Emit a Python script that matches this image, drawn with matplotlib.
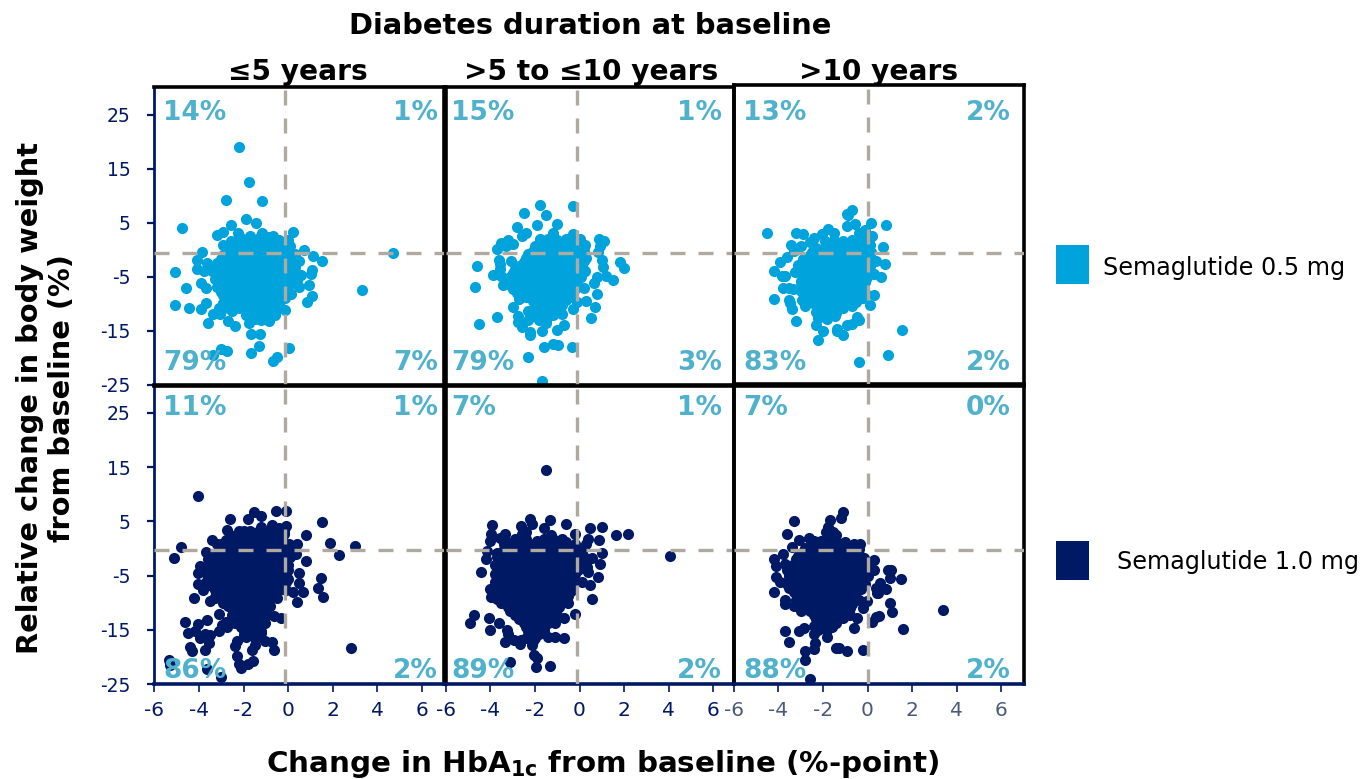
import matplotlib
matplotlib.use("Agg")
import matplotlib.pyplot as plt
from matplotlib.patches import Rectangle

plt.rcParams['font.family'] = 'DejaVu Sans'
plt.rcParams['axes.unicode_minus'] = False
plt.rcParams['mathtext.fontset'] = 'dejavusans'

W, H = 1364, 779
LIGHT = '#00A3DB'
DARK = '#001965'
TEAL = '#4FB1CB'
DASH = '#AFA9A0'

y_ticks = [25, 15, 5, -5, -15, -25]
x_ticks = [-6, -4, -2, 0, 2, 4, 6]
column_titles = ['≤5 years', '>5 to ≤10 years', '>10 years']
series_names = ['Semaglutide 0.5 mg', 'Semaglutide 1.0 mg']

pct_top = [['14%', '1%', '79%', '7%'], ['15%', '1%', '79%', '3%'], ['13%', '2%', '83%', '2%']]
pct_bot = [['11%', '1%', '86%', '2%'], ['7%', '1%', '89%', '2%'], ['7%', '0%', '88%', '2%']]

p1_edge = [(-2.18,19.1),(-1.76,12.6),(-2.78,9.35),(-1.18,9.0),(-4.77,4.0),(4.72,-0.5),(3.32,-7.4),(1.52,-2.1),(1.12,-1.2),(.72,0),(.22,3.4),(-5.07,-4.0),(-4.57,-7.1),(-5.07,-10.2),(-4.45,-10.8),(-3.89,-10.9),(-3.68,-9.9),(-3.57,-13.5),(-3.39,-11.8),(-3.05,-11.8),(-2.68,-13.2),(-2.38,-14.1),(-1.76,-13.5),(-1.67,-15.6),(-1.26,-15.6),(-1.3,-17.7),(-1.66,-19),(-3.02,-18.4),(-2.75,-18.7),(-3.38,-19.5),(-.48,-19.8),(-.66,-20.6),(.04,-18.1),(-.15,-11.2),(-.87,-13.1),(-.58,-12.1),(.84,-9.7),(1.05,-8.5),(.94,-6.4),(1.05,-3.7),(1.03,-4.5),(.51,-2.1),(.51,-6.8),(.12,-8.2),(-.15,-8.8),(-1.87,5.8),(-1.43,5),(-2.57,4.7),(-3.17,2.8),(-2.9,3.3),(-2.23,3.2),(-1.17,3.2),(-.66,2.6),(.01,1.9),(-2.57,1.6),(-2.9,1),(-3.87,-.3),(-4.07,-1.8),(-4.1,-3.6),(-3.65,-2.4),(-3.9,-6.2),(-3.7,-7.1),(-3.5,-3.4),(-3.75,-3.9),(.3,-1.8),(.6,-4.6),(.4,-5.6)]
p1_fill = [(-2.1,2.3),(-1.7,2.6),(-1.3,2.2),(-.9,2.4),(-.4,1.9),(-2.5,.6),(-2.0,.9),(-1.7,.6),(-1.3,.8),(-.9,.5),(-.5,.9),(-.1,.6),(.1,.8),(-2.9,-.9),(-2.5,-1),(-2.1,-.7),(-1.7,-1),(-1.3,-.8),(-.9,-1.1),(-.5,-.8),(-.1,-1),(.3,-.7),(-3.2,-2.4),(-2.8,-2.3),(-2.4,-2.6),(-2,-2.3),(-1.6,-2.5),(-1.2,-2.3),(-.8,-2.6),(-.4,-2.4),(0,-2.3),(-3.4,-3.9),(-3,-4),(-2.6,-3.8),(-2.2,-4.1),(-1.8,-3.9),(-1.4,-4),(-1,-3.8),(-.6,-4.1),(-.2,-3.8),(.3,-4),(-3.3,-5.4),(-2.9,-5.5),(-2.5,-5.3),(-2.1,-5.6),(-1.7,-5.4),(-1.3,-5.5),(-.9,-5.3),(-.5,-5.6),(-.1,-5.4),(-3.2,-6.9),(-2.8,-7),(-2.4,-6.8),(-2,-7.1),(-1.6,-6.9),(-1.2,-7),(-.8,-6.8),(-.4,-7.1),(0,-6.9),(-2.9,-8.4),(-2.5,-8.5),(-2.1,-8.3),(-1.7,-8.6),(-1.3,-8.4),(-.9,-8.5),(-.5,-8.3),(-2.9,-9.9),(-2.5,-10.2),(-2,-9.9),(-1.6,-10.1),(-1.2,-9.9),(-.8,-10),(-.4,-9.8),(-3.1,-10.8),(-2.5,-11.3),(-1.7,-11.4),(-1.3,-11.6),(-.9,-11.3),(-.5,-11),(-1.5,-12.8),(-1.2,-13),(-.9,-12.5)]
p1_core = [(1.5,[-2.3,-1.9,-1.5,-1.1,-.7,-.3]),(-.1,[-2.7,-2.3,-1.9,-1.5,-1.1,-.7,-.3,.1]),(-1.7,[-3,-2.7,-2.3,-1.9,-1.5,-1.1,-.7,-.3,.1]),(-3.2,[-3.2,-2.8,-2.4,-2,-1.6,-1.2,-.8,-.4,0,.3]),(-4.7,[-3.2,-2.8,-2.4,-2,-1.6,-1.2,-.8,-.4,0]),(-6.2,[-3.1,-2.7,-2.3,-1.9,-1.5,-1.1,-.7,-.3,.1]),(-7.7,[-3,-2.6,-2.2,-1.8,-1.4,-1,-.6,-.2]),(-9.2,[-2.7,-2.3,-1.9,-1.5,-1.1,-.7,-.3]),(-10.7,[-2.7,-2.2,-1.8,-1.4,-1,-.6]),(-12,[-1.9,-1.5,-1.1,-.7])]

p2_edge = [(-1.79,8.4),(-.31,8.2),(-2.5,6.9),(-1.49,6.5),(-1.9,4.7),(-1,4.9),(-2.8,4.2),(-2.38,3.1),(-2.6,2.6),(-3.2,1.9),(-3.51,1.3),(-3.69,.1),(.88,2.1),(1.09,1.6),(.94,.7),(.85,-.4),(1.03,-1.8),(1.06,-3.1),(1.81,-2.2),(2,-3.4),(1.51,-5.6),(1.18,-4.8),(.79,-5),(.67,-6.2),(-4.59,-2.9),(-3.57,-2.6),(-3.9,-4.7),(-4.69,-6.9),(-3.5,-4.8),(-3.42,-6.4),(-3.05,-2.1),(.19,-7),(.79,-8.2),(.27,-9.4),(-.1,-9.6),(.7,-10.5),(.51,-12.6),(-.28,-11),(-2.7,-9),(-3,-10.5),(-3.69,-12.4),(-4.5,-13.7),(-2.75,-12.3),(-2.78,-13.3),(-2.59,-14.2),(-2.23,-15.2),(-2.23,-15.8),(-1.7,-15),(-.99,-14.8),(-.7,-13.9),(-.78,-11.9),(-1.51,-13.5),(-2.3,-11.3),(-2,-12.3),(-1.58,-17.9),(-1.18,-17.4),(-.96,-17.5),(-.33,-18),(-2.3,-19.9),(-1.7,-24.3),(-1.18,3.2),(-.28,2.9),(.01,2.1),(.24,1),(-1.75,2),(-3.55,-3.6),(-3.3,.8),(-3.0,1.2),(-3.6,-1.9),(.25,-3.8),(.2,-.6)]
p2_fill = [(-1.4,2),(-1,1.9),(-.6,2.1),(-.2,1.7),(-2,.7),(-1.6,.9),(-1.2,.6),(-.8,.8),(-.4,.6),(0,.7),(-2.3,-.8),(-1.9,-.6),(-1.5,-.9),(-1.1,-.7),(-.7,-.9),(-.3,-.6),(.1,-.8),(-2.5,-2.2),(-2.1,-2.1),(-1.7,-2.3),(-1.3,-2),(-.9,-2.3),(-.5,-2.1),(-.1,-2.3),(.2,-2),(-2.9,-3.6),(-2.5,-3.5),(-2.1,-3.7),(-1.7,-3.5),(-1.3,-3.7),(-.9,-3.5),(-.5,-3.6),(-.1,-3.4),(-3.1,-5),(-2.7,-5.1),(-2.3,-4.9),(-1.9,-5.2),(-1.5,-5),(-1.1,-5.1),(-.7,-4.9),(-.3,-5.1),(.05,-5),(-3.1,-6.5),(-2.7,-6.4),(-2.3,-6.6),(-1.9,-6.4),(-1.5,-6.6),(-1.1,-6.4),(-.7,-6.6),(-.3,-6.4),(-2.8,-7.9),(-2.4,-8),(-2,-7.8),(-1.6,-8.1),(-1.2,-7.9),(-.8,-8),(-.4,-7.8),(-2.1,-9.4),(-1.7,-9.5),(-1.3,-9.3),(-.9,-9.5),(-.6,-9.3),(-2,-10.8),(-1.6,-10.9),(-1.2,-10.7),(-.9,-10.6),(-1.9,-12),(-1.5,-12.2),(-1.2,-12)]
p2_core = [(1.3,[-1.6,-1.2,-.8,-.4,-.1]),(-.1,[-2.1,-1.7,-1.3,-.9,-.5,-.1,.2]),(-1.5,[-2.4,-2,-1.6,-1.2,-.8,-.4,0,.3]),(-2.9,[-2.7,-2.3,-1.9,-1.5,-1.1,-.7,-.3,.1]),(-4.3,[-3,-2.6,-2.2,-1.8,-1.4,-1,-.6,-.2,.1]),(-5.7,[-3.2,-2.9,-2.5,-2.1,-1.7,-1.3,-.9,-.5,-.1]),(-7.2,[-3,-2.6,-2.2,-1.8,-1.4,-1,-.6,-.2]),(-8.7,[-2.4,-2,-1.6,-1.2,-.8,-.4]),(-10.1,[-2,-1.6,-1.2,-.8]),(-11.5,[-1.8,-1.4,-1.1]),(-13,[-2.3,-1.8,-1.5])]

p3_edge = [(-.69,7.5),(-.9,6.7),(-.88,6.4),(.16,5),(.85,4.7),(-.58,4.8),(-.93,4.4),(-4.5,3.1),(-3.2,3.1),(-2.9,2.9),(-1.79,3.8),(-2.02,2.9),(-3.44,1),(-2.6,1.5),(-3,.7),(.7,.5),(.12,1),(.19,2.6),(-3.59,-1.3),(-3.92,-2.2),(-4.2,-3.8),(-3.84,-4.8),(-3.72,-4.8),(.37,-2.1),(.79,-2.5),(.6,-5),(.27,-4.5),(-3.24,-4.1),(-3,-5.7),(-3.8,-7.1),(-3.5,-7.1),(-3.32,-7.3),(-4.2,-9),(-3.5,-9.2),(-3.47,-9.9),(-3.39,-11),(-3.2,-13.2),(-2.94,-9.2),(-2.8,-10.4),(.3,-8.3),(.12,-10.2),(-.48,-12.4),(-.4,-13),(-.9,-13.9),(-.7,-13.7),(-1.08,-15.7),(-1.38,-14.7),(-1.35,-15),(-2,-15),(-2.2,-16.6),(-2.3,-13.8),(1.55,-14.8),(.9,-19.5),(-.4,-20.8),(-1.45,-12.3),(-1.8,-12.7),(-2.3,-11.5),(-2.2,-12.6),(-1.5,3.2),(-.4,3.2),(-.15,2.2),(-3.1,-2.8),(-3.3,-.2),(-2.4,2.2),(-.1,3.7)]
p3_fill = [(-1.9,1.7),(-1.5,1.9),(-1.1,1.7),(-.7,1.9),(-.3,1.5),(.05,1.3),(-2.3,.4),(-1.9,.6),(-1.5,.3),(-1.1,.5),(-.7,.3),(-.3,.5),(-2.6,-.9),(-2.2,-.8),(-1.8,-1),(-1.4,-.7),(-1,-1),(-.6,-.8),(-.2,-1),(-2.7,-2.3),(-2.3,-2.2),(-1.9,-2.4),(-1.5,-2.2),(-1.1,-2.4),(-.7,-2.2),(-.3,-2.3),(0,-2.2),(-2.8,-3.8),(-2.4,-3.7),(-2,-3.9),(-1.6,-3.7),(-1.2,-3.9),(-.8,-3.7),(-.4,-3.8),(-.05,-3.7),(-2.7,-5.2),(-2.3,-5.3),(-1.9,-5.1),(-1.5,-5.4),(-1.1,-5.2),(-.7,-5.3),(-.3,-5.1),(-.05,-5.3),(-2.8,-6.7),(-2.4,-6.6),(-2,-6.8),(-1.6,-6.6),(-1.2,-6.8),(-.8,-6.6),(-.4,-6.8),(-2.8,-8.2),(-2.4,-8.1),(-2,-8.3),(-1.6,-8.1),(-1.2,-8.3),(-.8,-8.1),(-.3,-8.6),(-.05,-8.2),(-2.5,-9.6),(-2.1,-9.5),(-1.7,-9.7),(-1.3,-9.5),(-.9,-9.7),(-.5,-9.6),(-2.1,-11),(-1.7,-10.9),(-1.4,-11),(-1.1,-10.8)]
p3_core = [(1,[-1.7,-1.3,-.9,-.5,-.1]),(-.3,[-2.5,-2.1,-1.7,-1.3,-.9,-.5,-.1,.15]),(-1.6,[-2.9,-2.5,-2.1,-1.7,-1.3,-.9,-.5,-.1]),(-3,[-2.9,-2.5,-2.1,-1.7,-1.3,-.9,-.5,-.1,.1]),(-4.5,[-2.9,-2.6,-2.2,-1.8,-1.4,-1,-.6,-.2,.1]),(-6,[-3,-2.5,-2.1,-1.7,-1.3,-.9,-.5,-.1]),(-7.5,[-3,-2.6,-2.2,-1.8,-1.4,-1,-.6,-.2]),(-8.9,[-2.6,-2.2,-1.8,-1.4,-1,-.6,-.2]),(-10.3,[-2.3,-1.9,-1.5,-1.1,-.7]),(-11.7,[-2,-1.7,-1.4])]

p4_edge = [(-4.02,9.6),(-1.51,6.7),(-1.21,6),(-.54,6.9),(-.1,6.9),(-1.82,5.4),(-2.62,5.4),(-2.72,3.4),(1.54,4.8),(.79,2.4),(1.88,1),(3.02,.5),(2.29,-1.2),(.39,.8),(.79,-2.3),(-.09,4.2),(-3.41,1.6),(-4.81,.2),(-5.11,-1.7),(-3.69,-.6),(-3.95,-3.3),(-4.02,-4.6),(-4.02,-6.5),(-3.8,-7.7),(-4.2,-9.1),(.49,-4.6),(1.49,-5.4),(.51,-6.4),(.69,-8.1),(1.32,-7.3),(1.57,-9),(.39,-9.8),(.21,-8.1),(.01,-5.7),(-.63,-12.4),(-.33,-12.9),(-1.03,-13.8),(-4.62,-13.5),(-4.02,-14),(-3.62,-13.1),(-4.51,-15.5),(-4.17,-15.2),(-3.72,-15.7),(-3.95,-16.6),(-3.5,-16),(-3.53,-17.4),(-4.39,-18.1),(-4.3,-19),(-3.72,-18.7),(-3.1,-15.2),(-2.97,-14.1),(-2.78,-13.5),(-2.72,-14.5),(-3.12,-12),(-2.3,-17),(-2.38,-18),(-1.03,-17),(-.7,-17.3),(-.61,-18.8),(-1.48,-17.8),(-1.63,-18.8),(-2.3,-19.8),(-1.58,-20.8),(-1.82,-21.3),(-2.18,-21.3),(-2.11,-22.1),(-3.65,-22.3),(-3.02,-23.7),(-5.32,-20.5),(-5.3,-21.5),(2.8,-18.3),(-1.2,4),(-.7,4.4),(-.4,3.8),(-2,3.2),(.2,-.2),(.35,-1),(-3.2,.8),(-3.6,-2),(-3.3,-8.9),(-3.5,-9.6),(-2,-16),(-1.5,-16.5),(-1.2,-15.5)]
p4_fill = [(-2.6,2.4),(-2.2,2.7),(-1.8,2.3),(-1.4,2.6),(-1,2.8),(-.6,2.5),(-.2,2.7),(-3,.8),(-2.6,1),(-2.2,.7),(-1.8,.9),(-1.4,.7),(-1,1),(-.6,.8),(-.2,1),(.05,.8),(-3.2,-.8),(-2.8,-.6),(-2.4,-.9),(-2,-.7),(-1.6,-.9),(-1.2,-.6),(-.8,-.8),(-.4,-.6),(0,-.9),(-3.4,-2.3),(-3,-2.2),(-2.6,-2.4),(-2.2,-2.2),(-1.8,-2.4),(-1.4,-2.2),(-1,-2.4),(-.6,-2.2),(-.2,-2.4),(-3.5,-3.8),(-3.1,-3.9),(-2.7,-3.7),(-2.3,-4),(-1.9,-3.8),(-1.5,-3.9),(-1.1,-3.7),(-.7,-4),(-.3,-3.8),(0,-3.9),(-3.5,-5.4),(-3.1,-5.3),(-2.7,-5.5),(-2.3,-5.3),(-1.9,-5.5),(-1.5,-5.3),(-1.1,-5.5),(-.7,-5.3),(-.3,-5.5),(-3.4,-7),(-3,-6.9),(-2.6,-7.1),(-2.2,-6.9),(-1.8,-7.1),(-1.4,-6.9),(-1,-7.1),(-.6,-6.9),(-.3,-7.2),(-3.1,-8.5),(-2.7,-8.4),(-2.3,-8.6),(-1.9,-8.4),(-1.5,-8.6),(-1.1,-8.4),(-.7,-8.6),(-2.9,-10),(-2.5,-9.9),(-2.1,-10.1),(-1.7,-9.9),(-1.3,-10.1),(-.9,-9.9),(-2.3,-11.5),(-1.9,-11.4),(-1.5,-11.6),(-1.2,-11.4),(-2.2,-13),(-1.8,-12.9),(-1.4,-13.1),(-2.1,-14.5),(-1.7,-14.4),(-1.3,-14.6)]
p4_core = [(3.3,[-2.2,-1.7,-1.3,-.9,-.5,-.2]),(1.6,[-2.8,-2.4,-2,-1.6,-1.2,-.8,-.4]),(0,[-3.1,-2.8,-2.4,-2,-1.6,-1.2,-.8,-.4,0]),(-1.5,[-3.3,-3,-2.6,-2.2,-1.8,-1.4,-1,-.6,-.2,.1]),(-3,[-3.6,-3.2,-2.8,-2.4,-2,-1.6,-1.2,-.8,-.4,0]),(-4.6,[-3.7,-3.3,-2.9,-2.5,-2.1,-1.7,-1.3,-.9,-.5,-.1]),(-6.2,[-3.7,-3.3,-2.9,-2.5,-2.1,-1.7,-1.3,-.9,-.5,-.1]),(-7.7,[-3.3,-2.8,-2.4,-2,-1.6,-1.2,-.8,-.4,-.1]),(-9.2,[-3.3,-2.9,-2.5,-2.1,-1.7,-1.3,-.9,-.5]),(-10.7,[-2.7,-2.3,-1.9,-1.5,-1.1,-.8]),(-12.2,[-2.5,-2.1,-1.7,-1.3,-1]),(-13.7,[-2.4,-2,-1.6,-1.2]),(-15.2,[-2,-1.6,-1.2]),(-16.3,[-1.9])]

p5_edge = [(-1.52,14.4),(-2.23,5.4),(-2.11,4.6),(-2.63,4.2),(-3.92,4.4),(-1.33,5.3),(-.61,4.5),(-1.6,3.8),(-2.4,3.1),(-3.32,2.7),(-3.95,2.7),(-4.02,1.3),(-4.13,-.4),(-4.2,-1.9),(-4.42,-4.3),(-3.57,1.9),(.46,3.8),(.99,3.9),(1.64,2.4),(2.18,2.6),(.88,1.6),(.36,1.7),(.31,.9),(-.21,2.7),(1.02,-.8),(.94,-2.9),(4.07,-1.4),(.36,-4.3),(.54,-1.8),(.82,-5.2),(.49,-6.7),(.09,-6.2),(.57,-9.4),(-.21,-12.1),(-.51,-10.1),(-.7,-12.9),(-1.11,-13.7),(-.7,-16.5),(-1.11,-16.3),(-1.4,-16.3),(-4.72,-12.3),(-4.92,-13.7),(-4.05,-12.9),(-4.02,-15),(-4.02,-7.4),(-3.99,-9),(-3.6,-13.7),(-3.27,-15),(-3.2,-15.8),(-3.32,-17.3),(-2.94,-16.8),(-2.63,-16.8),(-2.68,-17.6),(-2.15,-17.8),(-2.03,-19.7),(-1.9,-20.2),(-1.93,-21.8),(-1.33,-21.7),(-3.12,-20.9),(-1.3,2.5),(-.6,1.2),(.05,-.5),(.3,-2.6),(.35,-3.4),(-3.8,-3),(-3.7,-.8),(-3.4,.8),(-2.9,1.7),(-2.6,2.6),(-1.9,1.4)]
p5_fill = [(-3.1,1),(-2.7,.7),(-2.2,.8),(-1.8,.6),(-1.4,.9),(-1,.7),(-.6,.1),(-.2,.8),(-3.5,-.9),(-3.1,-.8),(-2.7,-1),(-2.3,-.7),(-1.9,-1),(-1.5,-.8),(-1.1,-1),(-.7,-.8),(-.3,-1),(.1,-.9),(-3.6,-2.4),(-3.2,-2.3),(-2.8,-2.5),(-2.4,-2.3),(-2,-2.5),(-1.6,-2.3),(-1.2,-2.5),(-.8,-2.3),(-.4,-2.5),(0,-2.3),(-3.6,-4),(-3.2,-3.9),(-2.8,-4.1),(-2.4,-3.9),(-2,-4.1),(-1.6,-3.9),(-1.2,-4.1),(-.8,-3.9),(-.4,-4.1),(-.05,-4),(-3.6,-5.5),(-3.2,-5.4),(-2.8,-5.6),(-2.4,-5.4),(-2,-5.6),(-1.6,-5.4),(-1.2,-5.6),(-.8,-5.4),(-.4,-5.6),(-3.7,-7),(-3.3,-7),(-2.9,-7.1),(-2.5,-6.9),(-2.1,-7.1),(-1.7,-6.9),(-1.3,-7.1),(-.9,-6.9),(-.5,-7.1),(-3.7,-8.6),(-3.3,-8.5),(-2.9,-8.7),(-2.5,-8.5),(-2.1,-8.7),(-1.7,-8.5),(-1.3,-8.7),(-.9,-8.5),(-.5,-8.7),(-3.5,-10.1),(-3.1,-10),(-2.7,-10.2),(-2.3,-10),(-1.9,-10.2),(-1.5,-10),(-1.1,-10.2),(-.8,-10),(-3.1,-11.6),(-2.7,-11.5),(-2.3,-11.7),(-1.9,-11.5),(-1.5,-11.7),(-1.1,-11.6),(-2.7,-13),(-2.3,-12.9),(-1.9,-13.1),(-1.5,-13),(-2.4,-14.5),(-2,-14.4),(-1.6,-14.6),(-2.2,-16),(-1.8,-15.8),(-2.1,-17)]
p5_core = [(1.8,[-2.4,-1.6,-1.2,-.8]),(0,[-3.4,-3,-2.6,-2.2,-1.8,-1.4,-1,-.6,-.2]),(-1.6,[-3.7,-3.3,-2.9,-2.5,-2.1,-1.7,-1.3,-.9,-.5,-.1,.2]),(-3.2,[-3.7,-3.4,-3,-2.6,-2.2,-1.8,-1.4,-1,-.6,-.2,.2]),(-4.7,[-3.8,-3.4,-3,-2.6,-2.2,-1.8,-1.4,-1,-.6,-.2]),(-6.2,[-3.8,-3.4,-3,-2.6,-2.2,-1.8,-1.4,-1,-.6,-.2]),(-7.8,[-3.8,-3.5,-3.1,-2.7,-2.3,-1.9,-1.5,-1.1,-.7,-.4]),(-9.3,[-3.7,-3.3,-2.9,-2.5,-2.1,-1.7,-1.3,-.9,-.6]),(-10.8,[-3.2,-2.9,-2.5,-2.1,-1.7,-1.3,-.9]),(-12.3,[-2.9,-2.5,-2.1,-1.7,-1.3,-1]),(-13.7,[-2.5,-2.1,-1.7,-1.4]),(-15.2,[-2.3,-1.9,-1.6]),(-16.5,[-2.4,-2])]

p6_edge = [(-1.08,6.8),(-1.2,5.7),(-1.7,5.3),(-3.29,5),(-3.59,2.7),(-3.09,1.6),(-2.62,2),(-2.39,1.4),(-3.39,.2),(-3.8,-1),(-4.2,-2),(-4.1,-3.2),(-4.1,-5.2),(-3.92,-6.1),(-4.2,-8),(-3.69,-9.5),(-3.69,-10.3),(-3.3,-10.7),(-3.69,-15.3),(-3.5,-17.2),(-3.06,-15.2),(-2.84,-14.6),(-2.8,-18.9),(-2.8,-20.6),(-2.6,-24.1),(-2.35,-17.5),(-2.39,-18.6),(-1.4,-18.3),(-1.3,-18.4),(-.9,-18.9),(-.18,-18.7),(-1.82,-16.3),(-2.42,-15.7),(-.6,-14.7),(-.48,-12.9),(.19,-13.6),(.37,-12.7),(.52,-12.4),(1.58,-14.9),(1.09,-11.7),(.99,-10.1),(3.39,-11.4),(-.03,-9.6),(.46,-8.3),(.82,-7.5),(.57,-6.4),(.38,-7.2),(.42,-8.2),(1.49,-5.6),(.99,-5.4),(1.05,-4),(.94,-3.9),(.27,-4),(.3,-2.2),(-.33,.9),(-1.75,4),(-1.85,3),(-1.55,3),(-1.4,2.4),(-.15,-1.8),(-3.6,-4),(-3.7,-2.9)]
p6_fill = [(-2.1,1.4),(-1.8,1.6),(-1.4,1.3),(-1,1.2),(-.6,.8),(-2.8,.1),(-2.4,.3),(-2,.1),(-1.6,.2),(-1.2,0),(-.8,.2),(-.4,-.1),(-3.1,-1.3),(-2.7,-1.2),(-2.3,-1.4),(-1.9,-1.2),(-1.5,-1.4),(-1.1,-1.2),(-.7,-1.4),(-.35,-1.3),(-3.3,-2.8),(-2.9,-2.7),(-2.5,-2.9),(-2.1,-2.7),(-1.7,-2.9),(-1.3,-2.7),(-.9,-2.9),(-.5,-2.7),(-.1,-2.9),(-3.4,-4.3),(-3,-4.2),(-2.6,-4.4),(-2.2,-4.2),(-1.8,-4.4),(-1.4,-4.2),(-1,-4.4),(-.6,-4.2),(-.2,-4.4),(-3.5,-5.8),(-3.1,-5.7),(-2.7,-5.9),(-2.3,-5.7),(-1.9,-5.9),(-1.5,-5.7),(-1.1,-5.9),(-.7,-5.7),(-.3,-5.9),(-3.5,-7.3),(-3.1,-7.2),(-2.7,-7.4),(-2.3,-7.2),(-1.9,-7.4),(-1.5,-7.2),(-1.1,-7.4),(-.7,-7.2),(-.3,-7.4),(-3,-8.8),(-2.6,-8.7),(-2.2,-8.9),(-1.8,-8.7),(-1.4,-8.9),(-1,-8.7),(-.6,-8.9),(-3.1,-10.2),(-2.7,-10.1),(-2.3,-10.3),(-1.9,-10.1),(-1.5,-10.3),(-1.1,-10.1),(-.7,-10.3),(-.2,-11),(-3,-11.6),(-2.6,-11.5),(-2.2,-11.7),(-1.8,-11.5),(-1.4,-11.7),(-1,-11.5),(-2.3,-13),(-1.9,-12.9),(-1.5,-13.1),(-1.1,-12.9),(-2.4,-14.3),(-2,-14.2),(-1.6,-14.4)]
p6_core = [(.6,[-2.5,-2.1,-1.7,-1.3,-.9]),(-.6,[-2.9,-2.5,-2.1,-1.7,-1.3,-.9,-.5]),(-2,[-3.2,-2.9,-2.5,-2.1,-1.7,-1.3,-.9,-.5]),(-3.5,[-3.3,-3.1,-2.7,-2.3,-1.9,-1.5,-1.1,-.7,-.3,0]),(-5,[-3.5,-3.2,-2.8,-2.4,-2,-1.6,-1.2,-.8,-.4,0]),(-6.5,[-3.6,-3.3,-2.9,-2.5,-2.1,-1.7,-1.3,-.9,-.5,-.1]),(-8,[-3.3,-2.9,-2.5,-2.1,-1.7,-1.3,-.9,-.5]),(-9.5,[-3.2,-2.8,-2.4,-2,-1.6,-1.2,-.8,-.4]),(-11,[-2.8,-2.4,-2,-1.6,-1.2,-.8]),(-12.3,[-2.4,-2,-1.6,-1.2,-.8]),(-13.7,[-2.2,-1.8,-1.4]),(-15,[-2.2,-1.8])]


def unroll(core):
    return [(x, y) for y, xs in core for x in xs]


panels = [p1_edge + p1_fill + unroll(p1_core), p2_edge + p2_fill + unroll(p2_core),
          p3_edge + p3_fill + unroll(p3_core), p4_edge + p4_fill + unroll(p4_core),
          p5_edge + p5_fill + unroll(p5_core), p6_edge + p6_fill + unroll(p6_core)]

fig = plt.figure(figsize=(W / 100, H / 100), dpi=100, facecolor='white')


def px_axes(l, t, r, b):
    return fig.add_axes([l / W, 1 - b / H, (r - l) / W, (b - t) / H])


def px_text(x, y, s, **kw):
    kw.setdefault('va', 'center')
    fig.text(x / W, 1 - y / H, s, **kw)


x_frames = [(154.3, 444), (445.7, 734), (733.7, 1024)]
vlines = [-0.12, -0.12, 0.0]
hlines = [-0.5, -0.3]
PPX = 22.3
PPY = [5.4, 5.42]
rows = [(87, 385, 85), (386, 684, 386)]
pct_left = [163, 451, 743]
pct_right = [438, 722, 1011]

for r in range(2):
    top, bot, top3 = rows[r]
    for c in range(3):
        l, rt = x_frames[c]
        t = top3 if c == 2 else top
        b = bot - 1 if (r == 0 and c == 2) else bot
        ax = px_axes(l, t, rt, b)
        ax.set_xlim(-6, -6 + (rt - l) / PPX)
        y_low = -25 + (bot - b) / PPY[r]
        ax.set_ylim(y_low, y_low + (b - t) / PPY[r])
        ax.patch.set_alpha(0)
        pts = panels[r * 3 + c]
        ax.scatter([p[0] for p in pts], [p[1] for p in pts], s=64,
                   color=LIGHT if r == 0 else DARK, linewidths=0, zorder=2,
                   clip_on=False)
        ax.axhline(hlines[r], color=DASH, lw=2.4, dashes=(4.5, 3.9), zorder=3)
        ax.axvline(vlines[c], color=DASH, lw=2.4, dashes=(4.5, 3.9), zorder=3)
        for s in ax.spines.values():
            s.set_color('black')
            s.set_linewidth(2.6)
        if c == 0:
            ax.spines['left'].set_color(DARK)
            ax.spines['left'].set_linewidth(2.0)
            ax.set_yticks(y_ticks)
            ax.set_yticklabels([str(v) for v in y_ticks], fontsize=13.5, color=DARK)
            ax.tick_params(axis='y', length=5, width=1.6, color=DARK, pad=12)
        else:
            ax.set_yticks([])
        if r == 1:
            ax.spines['bottom'].set_color(DARK)
            ax.set_xticks(x_ticks)
            ax.set_xticklabels([str(v) for v in x_ticks], fontsize=14.5,
                               color='#4A5A78' if c == 2 else DARK)
            ax.tick_params(axis='x', length=6, width=1.2, color=DARK, pad=6)
        else:
            ax.set_xticks([])
        labels = (pct_top if r == 0 else pct_bot)[c]
        ytop, ybot = (113, 363) if r == 0 else (408, 671)
        kw = dict(fontsize=19, fontweight='bold', color=TEAL, zorder=6)
        px_text(pct_left[c], ytop, labels[0], ha='left', **kw)
        px_text(pct_right[c], ytop, labels[1], ha='right', **kw)
        px_text(pct_left[c], ybot, labels[2], ha='left', **kw)
        px_text(pct_right[c], ybot, labels[3], ha='right', **kw)

px_text(590, 26, 'Diabetes duration at baseline', ha='center', fontsize=20.8,
        fontweight='bold', color='black')
for cx, s in zip([298, 591, 879], column_titles):
    px_text(cx, 72, s, ha='center', fontsize=20.2, fontweight='bold', color='black')
px_text(603, 764, r'Change in HbA$_{\mathbf{1c}}$ from baseline (%-point)', ha='center',
        fontsize=21.2, fontweight='bold', color='black')
px_text(46, 398, 'Relative change in body weight\nfrom baseline (%)', ha='center',
        rotation=90, fontsize=20.8, fontweight='bold', color='black', linespacing=1.2)

fig.patches.append(Rectangle((1056 / W, 1 - 284 / H), 33 / W, 39 / H, transform=fig.transFigure,
                             facecolor=LIGHT, edgecolor='none'))
fig.patches.append(Rectangle((1056 / W, 1 - 580 / H), 33 / W, 39 / H, transform=fig.transFigure,
                             facecolor=DARK, edgecolor='none'))
px_text(1103, 268, series_names[0], ha='left', fontsize=17.2, color='black')
px_text(1117, 562, series_names[1], ha='left', fontsize=17.2, color='black')

fig.savefig('out.png', dpi=100)
